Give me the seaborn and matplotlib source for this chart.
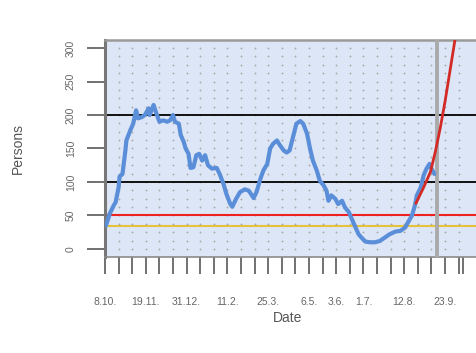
import matplotlib
matplotlib.use("Agg")
import matplotlib.pyplot as plt
import seaborn as sns
import pandas as pd
import numpy as np

sns.set_theme(style="white")
plt.rcParams["font.family"] = ["Liberation Sans", "DejaVu Sans"]

dates = ["2020-10-09", "2020-10-13", "2020-10-17", "2020-10-19", "2020-10-22", "2020-10-23",
         "2020-10-26", "2020-10-29", "2020-10-30", "2020-11-03", "2020-11-06", "2020-11-09",
         "2020-11-11", "2020-11-15", "2020-11-18", "2020-11-22", "2020-11-23", "2020-11-27",
         "2020-11-30", "2020-12-03", "2020-12-07", "2020-12-11", "2020-12-14", "2020-12-17",
         "2020-12-19", "2020-12-23", "2020-12-25", "2020-12-28", "2020-12-30", "2021-01-02",
         "2021-01-04", "2021-01-07", "2021-01-10", "2021-01-13", "2021-01-16", "2021-01-19",
         "2021-01-22", "2021-01-26", "2021-01-31", "2021-02-03", "2021-02-07", "2021-02-10",
         "2021-02-14", "2021-02-16", "2021-02-20", "2021-02-24", "2021-03-01", "2021-03-05",
         "2021-03-10", "2021-03-13", "2021-03-17", "2021-03-20", "2021-03-24", "2021-03-27",
         "2021-03-30", "2021-04-03", "2021-04-06", "2021-04-10", "2021-04-13", "2021-04-16",
         "2021-04-20", "2021-04-23", "2021-04-27", "2021-04-30", "2021-05-04", "2021-05-07",
         "2021-05-10", "2021-05-14", "2021-05-17", "2021-05-21", "2021-05-24", "2021-05-26",
         "2021-05-29", "2021-06-02", "2021-06-05", "2021-06-09", "2021-06-12", "2021-06-16",
         "2021-06-19", "2021-06-22", "2021-06-26", "2021-06-29", "2021-07-03", "2021-07-08",
         "2021-07-13", "2021-07-18", "2021-07-23", "2021-07-28", "2021-08-03", "2021-08-08",
         "2021-08-13", "2021-08-16", "2021-08-20", "2021-08-23", "2021-08-25", "2021-08-29",
         "2021-09-01", "2021-09-04", "2021-09-07", "2021-09-09", "2021-09-12"]
persons = [35, 53, 65, 70, 92, 108,
           112, 147, 162, 177, 187, 207,
           195, 197, 200, 210, 200, 215,
           202, 190, 192, 190, 192, 200,
           190, 187, 170, 160, 150, 142,
           121, 122, 140, 142, 132, 140,
           125, 120, 121, 112, 97, 82,
           67, 63, 75, 85, 89, 87,
           76, 85, 105, 117, 127, 150,
           157, 162, 155, 147, 144, 147,
           170, 187, 191, 187, 172, 150,
           132, 117, 102, 95, 87, 72,
           80, 75, 67, 72, 62, 55,
           45, 35, 22, 17, 11, 10,
           10, 12, 17, 22, 26, 27,
           32, 40, 50, 65, 80, 92,
           110, 120, 127, 120, 112]

# projected growth (red curve)
projDates = ["2021-08-24", "2021-09-01", "2021-09-08", "2021-09-13", "2021-09-18",
             "2021-09-23", "2021-09-28", "2021-10-03", "2021-10-08"]
projPersons = [68, 92, 115, 145, 180, 220, 265, 310, 360]

refLevels = [100, 200]
redLevel = 50
goldLevel = 35
todayDate = "2021-09-15"

tickLabels = {"2020-10-08": "8.10.", "2020-11-19": "19.11.", "2020-12-31": "31.12.",
              "2021-02-11": "11.2.", "2021-03-25": "25.3.", "2021-05-06": "6.5.",
              "2021-06-03": "3.6.", "2021-07-01": "1.7.", "2021-08-12": "12.8.",
              "2021-09-23": "23.9."}
yTicks = [0, 50, 100, 150, 200, 250, 300]

obs = pd.DataFrame({"Date": pd.to_datetime(dates), "Persons": persons})
proj = pd.DataFrame({"Date": pd.to_datetime(projDates), "Persons": projPersons})

fig = plt.figure(figsize=(4.76, 3.53), dpi=100)
ax = fig.add_axes([105 / 476, 1 - 257 / 353, 375 / 476, 217 / 353])
ax.set_facecolor("#dde6f6")

start = pd.Timestamp("2020-10-08")
ax.set_xlim(start, start + pd.Timedelta(days=386))
ax.set_ylim(-12, 312)

# dotted lattice background
xTicks = list(pd.date_range(start, "2021-10-07", freq="14D")) + [pd.Timestamp("2021-10-12")]
gx, gy = np.meshgrid(pd.to_datetime(xTicks[:-1]), np.arange(0, 301, 12.5))
ax.scatter(gx.ravel(), gy.ravel(), marker="+", s=4, linewidths=0.6, color="#a9a9a9", zorder=1)

for lvl in refLevels:
    ax.axhline(lvl, color="#111111", lw=1.4, zorder=2)
ax.axhline(redLevel, color="#ee2020", lw=1.5, zorder=2)
ax.axhline(goldLevel, color="#e3c23c", lw=1.5, zorder=2)
ax.axvline(pd.Timestamp(todayDate), color="#aaaaaa", lw=2.8, zorder=3)

sns.lineplot(data=obs, x="Date", y="Persons", color="#5b8ed8", lw=3, ax=ax, zorder=4)
sns.lineplot(data=proj, x="Date", y="Persons", color="#d42a26", lw=2.0, ax=ax, zorder=5)

ax.set_xticks(xTicks)
ax.set_xticklabels([tickLabels.get(d.strftime("%Y-%m-%d"), "") for d in xTicks])
ax.set_yticks(yTicks)
ax.set_yticklabels([str(v) for v in yTicks], rotation=90, va="center")

ax.tick_params(axis="x", length=12, width=1.3, color="#666666", pad=17,
               labelsize=7.5, labelcolor="#666666", bottom=True)
ax.tick_params(axis="y", length=13, width=1.3, color="#666666", pad=8,
               labelsize=7.5, labelcolor="#666666", left=True)

ax.spines["right"].set_visible(False)
ax.spines["left"].set_color("#777777")
ax.spines["left"].set_linewidth(2.2)
ax.spines["top"].set_color("#9a9a9a")
ax.spines["top"].set_linewidth(1.8)
ax.spines["bottom"].set_color("#8a8a8a")
ax.spines["bottom"].set_linewidth(1.2)

ax.set_xlabel("Date", fontsize=10, color="#555555")
ax.set_ylabel("Persons", fontsize=10, color="#555555")
ax.xaxis.set_label_coords(0.488, -0.28)
ax.xaxis.label.set_va("center")
ax.yaxis.set_label_coords(-0.232, 0.50)
ax.yaxis.label.set_va("center")
ax.grid(False)

fig.savefig("out.png", dpi=100)
